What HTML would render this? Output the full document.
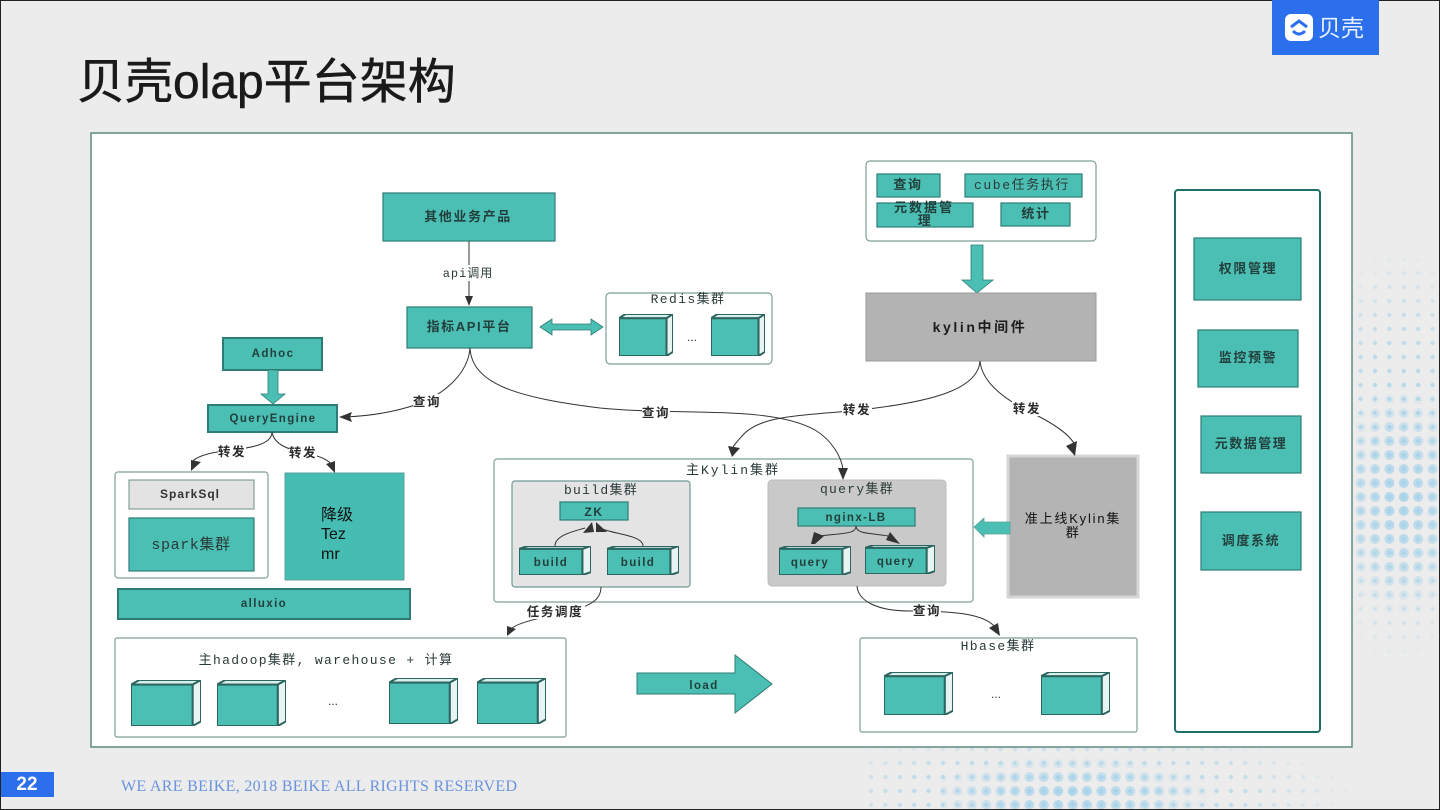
<!DOCTYPE html>
<html lang="zh"><head><meta charset="utf-8"><title>贝壳olap平台架构</title>
<style>
html,body{margin:0;padding:0;background:#ececec}
svg{display:block}
text{font-family:"Liberation Sans","Noto Sans CJK SC",sans-serif}
.t{fill:#223f3c;font-size:13px;font-weight:bold;text-anchor:middle;letter-spacing:1.6px}
.s{font-size:11.5px;letter-spacing:1.4px}
.m{fill:#2a3a38;font-family:"Liberation Mono","Noto Sans CJK SC",monospace;font-size:13px;text-anchor:middle;letter-spacing:1px}
.l{fill:#2a2a2a;font-size:12.5px;font-weight:bold;text-anchor:middle;letter-spacing:1.6px}
.b{fill:#4cbfb4;stroke:#2c7d76;stroke-width:1.2}
.b2{fill:#4cbfb4;stroke:#2c7d76;stroke-width:2}
.p{fill:#fff;stroke:#7f9e99;stroke-width:1.2}
.c{fill:none;stroke:#333;stroke-width:1}
.h{fill:#333}
.w{fill:#fff}
</style></head><body>
<svg width="1440" height="810" viewBox="0 0 1440 810" xmlns="http://www.w3.org/2000/svg">
<defs>
<symbol id="cube" viewBox="0 0 100 100" preserveAspectRatio="none">
<polygon points="0,10 12,0 100,0 88,10" fill="#d9efec" stroke="#2c6660" stroke-width="2" vector-effect="non-scaling-stroke"/>
<polygon points="88,10 100,0 100,90 88,100" fill="#e8f4f2" stroke="#2c6660" stroke-width="2" vector-effect="non-scaling-stroke"/>
<rect x="0" y="10" width="88" height="90" fill="#4cbfb4" stroke="#2c6660" stroke-width="2" vector-effect="non-scaling-stroke"/>
</symbol>
<pattern id="ds" width="14.4" height="14" patternUnits="userSpaceOnUse"><circle cx="7" cy="7" r="2.2" fill="#a5d2ea"/></pattern>
<pattern id="dl" width="14.4" height="14" patternUnits="userSpaceOnUse"><circle cx="7" cy="7" r="5" fill="#a5d2ea"/></pattern>
<radialGradient id="g1" cx=".5" cy=".5" r=".5"><stop offset="0" stop-color="#fff"/><stop offset=".6" stop-color="#999"/><stop offset="1" stop-color="#000"/></radialGradient>
<mask id="m1" maskUnits="userSpaceOnUse" x="1352" y="240" width="88" height="520"><ellipse cx="1400" cy="455" rx="100" ry="215" fill="url(#g1)"/></mask>
<mask id="m2" maskUnits="userSpaceOnUse" x="860" y="745" width="580" height="65"><ellipse cx="1070" cy="790" rx="290" ry="60" fill="url(#g1)"/></mask>
<mask id="m3" maskUnits="userSpaceOnUse" x="1352" y="380" width="88" height="300"><ellipse cx="1400" cy="500" rx="70" ry="120" fill="url(#g1)"/></mask>
<mask id="m4" maskUnits="userSpaceOnUse" x="940" y="745" width="300" height="65"><ellipse cx="1070" cy="795" rx="150" ry="40" fill="url(#g1)"/></mask>
</defs>

<rect x="0" y="0" width="1440" height="810" fill="#ececec"/>
<rect x="1352" y="240" width="88" height="520" fill="url(#ds)" mask="url(#m1)"/>
<rect x="860" y="745" width="580" height="65" fill="url(#ds)" mask="url(#m2)"/>
<rect x="1352" y="380" width="88" height="300" fill="url(#dl)" mask="url(#m3)" opacity=".85"/>
<rect x="940" y="745" width="300" height="65" fill="url(#dl)" mask="url(#m4)" opacity=".85"/>
<rect x=".5" y=".5" width="1439" height="809" fill="none" stroke="#222" stroke-width="1"/>

<rect x="1272" y="0" width="107" height="55" fill="#2b6fec"/>
<rect x="1285" y="14" width="28" height="27" rx="6" fill="#fff"/>
<path d="M1291 27 l8-6 8 6 M1293 31 q6 6 12 0" fill="none" stroke="#2b6fec" stroke-width="3"/>
<text x="1318" y="36" font-size="23" fill="#e8f0ff">贝壳</text>

<text x="77" y="98" font-size="48" fill="#1a1a1a" stroke="#1a1a1a" stroke-width=".5">贝壳olap平台架构</text>

<rect x="91" y="133" width="1261" height="614" fill="#fff" stroke="#5f8a82" stroke-width="1.5"/>

<!-- right column -->
<rect x="1175" y="190" width="145" height="542" rx="3" fill="#fff" stroke="#1f6f69" stroke-width="2"/>
<rect class="b" x="1194" y="238" width="107" height="62"/><text class="t" x="1248" y="273">权限管理</text>
<rect class="b" x="1198" y="330" width="100" height="57"/><text class="t" x="1248" y="362">监控预警</text>
<rect class="b" x="1201" y="416" width="100" height="57"/><text class="t" x="1251" y="448" style="letter-spacing:1.5px">元数据管理</text>
<rect class="b" x="1201" y="512" width="100" height="58"/><text class="t" x="1251" y="545">调度系统</text>

<!-- top centre -->
<rect class="b" x="383" y="193" width="172" height="48"/><text class="t" x="468" y="221">其他业务产品</text>
<rect class="b" x="407" y="307" width="125" height="41"/><text class="t" x="469" y="331">指标API平台</text>
<path class="c" d="M469 241V298"/><polygon class="h" points="465,296 473,296 469,306"/>
<rect x="440" y="265" width="58" height="16" class="w"/><text class="m" x="468" y="277" style="font-size:12px">api调用</text>

<rect class="p" x="606" y="293" width="166" height="71" rx="4"/>
<text class="m" x="688" y="303" style="letter-spacing:1.4px">Redis集群</text>
<use href="#cube" x="619" y="314" width="54" height="42"/>
<use href="#cube" x="711" y="314" width="54" height="42"/>
<text x="692" y="341" font-size="12" fill="#333" text-anchor="middle">...</text>
<polygon points="540,327 552,319 552,324 591,324 591,319 603,327 591,335 591,330 552,330 552,335" fill="#4cbfb4" stroke="#2c7d76" stroke-width=".8"/>

<!-- top right -->
<rect class="p" x="866" y="161" width="230" height="80" rx="4"/>
<rect class="b" x="877" y="174" width="63" height="23"/><text class="t" x="908" y="189">查询</text>
<rect class="b" x="965" y="174" width="117" height="23"/><text class="m" x="1022" y="189" style="letter-spacing:1.6px">cube任务执行</text>
<rect class="b" x="877" y="203" width="96" height="24"/>
<text class="t" x="924" y="212" style="letter-spacing:2px">元数据管</text>
<text class="t" x="925" y="225">理</text>
<rect class="b" x="1001" y="203" width="69" height="23"/><text class="t" x="1036" y="218">统计</text>
<polygon points="971,245 983,245 983,280 993,280 977,293 962,280 971,280" fill="#4cbfb4" stroke="#2c7d76" stroke-width=".8"/>
<rect x="866" y="293" width="230" height="68" fill="#b3b3b3" stroke="#999"/>
<text class="t" x="980" y="332" style="fill:#1c1c1c;font-size:14px;letter-spacing:2.6px">kylin中间件</text>

<!-- left -->
<rect class="b2" x="223" y="338" width="99" height="32"/><text class="t s" x="273" y="357">Adhoc</text>
<polygon points="268,370 278,370 278,394 285,394 273,404 261,394 268,394" fill="#4cbfb4" stroke="#2c7d76" stroke-width=".8"/>
<rect class="b2" x="208" y="405" width="129" height="27"/><text class="t s" x="273" y="422">QueryEngine</text>

<rect class="p" x="115" y="472" width="153" height="106" rx="3"/>
<rect x="129" y="480" width="125" height="29" fill="#e3e3e3" stroke="#6f8f8a"/><text class="t" x="190" y="498" style="font-size:12px;letter-spacing:1px;fill:#333">SparkSql</text>
<rect class="b" x="129" y="518" width="125" height="53"/><text class="m" x="191" y="549" style="font-size:15px;letter-spacing:.6px">spark集群</text>
<rect x="285" y="473" width="119" height="107" fill="#45bdb2" stroke="#5aa39c"/>
<text x="321" y="520" font-size="16" fill="#111">降级</text>
<text x="321" y="539" font-size="16" fill="#111">Tez</text>
<text x="321" y="559" font-size="16" fill="#111">mr</text>
<rect class="b2" x="118" y="589" width="292" height="30"/><text class="t s" x="264" y="607">alluxio</text>

<!-- main kylin -->
<rect class="p" x="494" y="459" width="479" height="143" rx="3" stroke="#5f8a82"/>
<text class="m" x="733" y="474" style="letter-spacing:2px">主Kylin集群</text>
<rect x="512" y="481" width="178" height="106" rx="3" fill="#e4e4e4" stroke="#6f9b95" stroke-width="1.2"/>
<text class="m" x="601" y="494" style="letter-spacing:1.3px">build集群</text>
<rect class="b" x="560" y="502" width="68" height="18"/><text class="t" x="594" y="516" style="font-size:12px">ZK</text>
<use href="#cube" x="519" y="546" width="72" height="29"/><text class="t s" x="551" y="566">build</text>
<use href="#cube" x="607" y="546" width="72" height="29"/><text class="t s" x="638" y="566">build</text>
<path class="c" d="M555 546C555 535 575 531 585 528M643 546C643 535 612 534 600 528"/>
<polygon class="h" points="592,522 583,533 594,532"/><polygon class="h" points="596,522 596,532 607,532"/>

<rect x="768" y="480" width="178" height="106" rx="4" fill="#c9c9c9" stroke="#bcbcbc"/>
<text class="m" x="857" y="493" style="letter-spacing:1.3px">query集群</text>
<rect class="b" x="798" y="508" width="117" height="18"/><text class="t s" x="856" y="521">nginx-LB</text>
<use href="#cube" x="779" y="546" width="72" height="29"/><text class="t s" x="810" y="566">query</text>
<use href="#cube" x="865" y="545" width="70" height="29"/><text class="t s" x="896" y="565">query</text>
<path class="c" d="M856 526C856 534 845 533 820 536M856 526C856 534 870 533 888 536"/>
<polygon class="h" points="814,532 824,536 815,544 811,544"/><polygon class="h" points="890,532 900,544 886,540"/>

<rect x="1008" y="456" width="130" height="141" fill="#b4b4b4" stroke="#d6d6d6" stroke-width="3"/>
<text class="t" x="1073" y="523" style="font-weight:normal;letter-spacing:1.8px;fill:#111">准上线Kylin集</text>
<text class="t" x="1073" y="537" style="font-weight:normal;fill:#111">群</text>
<polygon points="974,527 984,518 984,522 1010,522 1010,534 984,534 984,537" fill="#4cbfb4" stroke="#5aa39c" stroke-width=".8"/>

<!-- bottom -->
<rect class="p" x="115" y="638" width="451" height="99" rx="2"/>
<text class="m" x="326" y="664" style="letter-spacing:1.35px">主hadoop集群, warehouse + 计算</text>
<use href="#cube" x="131" y="680" width="70" height="46"/>
<use href="#cube" x="217" y="680" width="69" height="46"/>
<use href="#cube" x="389" y="678" width="69" height="46"/>
<use href="#cube" x="477" y="678" width="69" height="46"/>
<text x="333" y="705" font-size="12" fill="#333" text-anchor="middle">...</text>
<polygon points="637,673 735,673 735,655 772,684 735,713 735,694 637,694" fill="#4cbfb4" stroke="#2c7d76" stroke-width="1"/>
<text class="t s" x="704" y="689">load</text>
<rect class="p" x="860" y="638" width="277" height="94" rx="2"/>
<text class="m" x="998" y="650" style="letter-spacing:1.4px">Hbase集群</text>
<use href="#cube" x="884" y="672" width="69" height="43"/>
<use href="#cube" x="1041" y="672" width="69" height="43"/>
<text x="996" y="698" font-size="12" fill="#333" text-anchor="middle">...</text>

<!-- connectors -->
<path class="c" d="M470 348C468 375 442 395 418 404C395 412 370 416 345 417"/>
<polygon class="h" points="339,417 352,412 350,417 352,422"/>
<path class="c" d="M470 348C472 385 520 398 600 408C680 416 770 405 815 430C832 440 842 458 843 470"/>
<polygon class="h" points="838,468 848,468 843,480"/>
<path class="c" d="M980 361C978 390 930 402 860 410C800 416 760 415 742 436C736 443 733 446 733 448"/>
<polygon class="h" points="728,446 740,448 732,457"/>
<path class="c" d="M980 361C982 385 1010 402 1030 412C1055 424 1070 435 1075 445"/>
<polygon class="h" points="1066,446 1077,441 1075,456"/>
<path class="c" d="M272 432C272 445 250 448 225 451C205 453 195 458 192 462"/>
<polygon class="h" points="191,471 191,460 201,462"/>
<path class="c" d="M272 432C274 445 290 450 305 453C320 456 328 460 331 464"/>
<polygon class="h" points="335,473 326,464 335,461"/>
<path class="c" d="M601 587C601 600 590 605 575 610C540 618 520 622 512 628"/>
<polygon class="h" points="507,636 507,626 516,629"/>
<path class="c" d="M857 586C858 600 875 611 910 611C960 611 985 615 995 627"/>
<polygon class="h" points="1000,636 989,628 998,623"/>

<rect x="413" y="394" width="28" height="15" class="w"/><text class="l" x="427" y="406">查询</text>
<rect x="642" y="406" width="28" height="15" class="w"/><text class="l" x="656" y="417">查询</text>
<rect x="842" y="403" width="30" height="15" class="w"/><text class="l" x="857" y="414">转发</text>
<rect x="1012" y="401" width="30" height="15" class="w"/><text class="l" x="1027" y="413">转发</text>
<rect x="218" y="444" width="28" height="15" class="w"/><text class="l" x="232" y="456">转发</text>
<rect x="289" y="445" width="28" height="15" class="w"/><text class="l" x="303" y="457">转发</text>
<rect x="525" y="604" width="60" height="15" class="w"/><text class="l" x="555" y="616">任务调度</text>
<rect x="913" y="604" width="28" height="15" class="w"/><text class="l" x="927" y="615">查询</text>

<!-- footer -->
<rect x="1" y="772" width="53" height="25" fill="#2b6fec"/>
<text x="27" y="790" font-size="19" font-weight="bold" fill="#fff" text-anchor="middle">22</text>
<text x="121" y="791" textLength="396" style="font-family:'Liberation Serif','Noto Serif CJK SC',serif;font-size:16px" fill="#6a93de">WE ARE BEIKE, 2018 BEIKE ALL RIGHTS RESERVED</text>
</svg>
</body></html>
